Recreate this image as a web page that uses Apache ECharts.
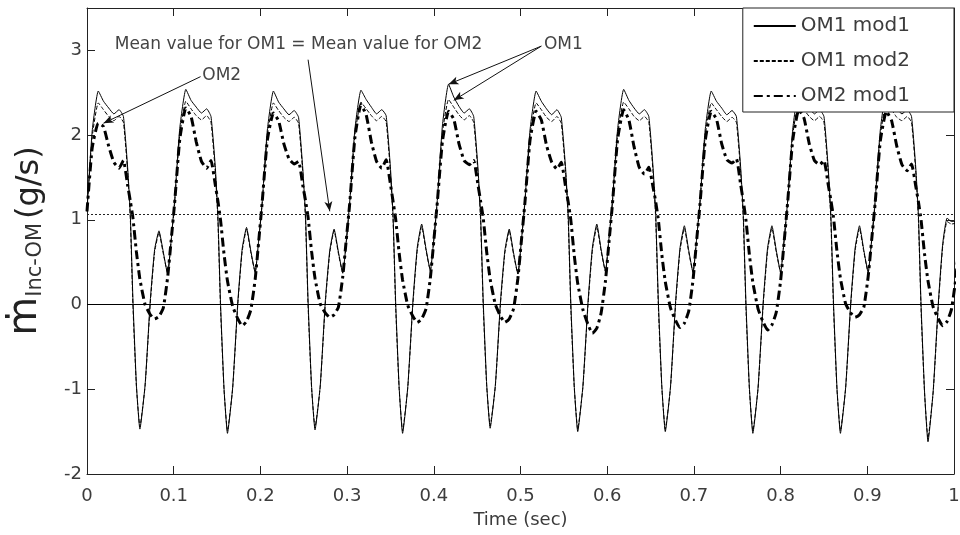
<!DOCTYPE html>
<html>
<head>
<meta charset="utf-8">
<script src="https://cdn.jsdelivr.net/npm/echarts@6/dist/echarts.min.js"></script>
<style>
  html, body { margin: 0; background: #fff; }
  #chart { width: 960px; height: 535px; }
</style>
</head>
<body>
<div id="chart"></div>
<script>
// time samples (sec), one row per engine cycle
const time = [
  0.000, 0.006, 0.013, 0.019, 0.025, 0.031, 0.037, 0.042, 0.047, 0.050, 0.053, 0.057, 0.061, 0.067, 0.073, 0.078, 0.083, 0.088, 0.093, 0.097,
  0.101, 0.107, 0.114, 0.120, 0.126, 0.132, 0.138, 0.143, 0.148, 0.151, 0.154, 0.158, 0.162, 0.168, 0.174, 0.179, 0.184, 0.189, 0.194, 0.198,
  0.202, 0.208, 0.215, 0.221, 0.227, 0.233, 0.239, 0.244, 0.249, 0.252, 0.255, 0.259, 0.263, 0.269, 0.275, 0.280, 0.285, 0.290, 0.295, 0.299,
  0.303, 0.309, 0.316, 0.322, 0.328, 0.334, 0.340, 0.345, 0.350, 0.353, 0.356, 0.360, 0.364, 0.370, 0.376, 0.381, 0.386, 0.391, 0.396, 0.400,
  0.404, 0.410, 0.417, 0.423, 0.429, 0.435, 0.441, 0.446, 0.451, 0.454, 0.457, 0.461, 0.465, 0.471, 0.477, 0.482, 0.487, 0.492, 0.497, 0.501,
  0.505, 0.511, 0.518, 0.524, 0.530, 0.536, 0.542, 0.547, 0.552, 0.555, 0.558, 0.562, 0.566, 0.572, 0.578, 0.583, 0.588, 0.593, 0.598, 0.602,
  0.606, 0.612, 0.619, 0.625, 0.631, 0.637, 0.643, 0.648, 0.653, 0.656, 0.659, 0.663, 0.667, 0.673, 0.679, 0.684, 0.689, 0.694, 0.699, 0.703,
  0.707, 0.713, 0.720, 0.726, 0.732, 0.738, 0.744, 0.749, 0.754, 0.757, 0.760, 0.764, 0.768, 0.774, 0.780, 0.785, 0.790, 0.795, 0.800, 0.804,
  0.808, 0.814, 0.821, 0.827, 0.833, 0.839, 0.845, 0.850, 0.855, 0.858, 0.861, 0.865, 0.869, 0.875, 0.881, 0.886, 0.891, 0.896, 0.901, 0.905,
  0.909, 0.915, 0.922, 0.928, 0.934, 0.940, 0.946, 0.951, 0.956, 0.959, 0.962, 0.966, 0.970, 0.976, 0.982, 0.987, 0.992, 0.997, 1.002, 1.006
];

const om1Mod1 = [
  1.10, 2.05, 2.52, 2.40, 2.32, 2.25, 2.30, 2.22, 1.60, 1.05, 0.05, -0.95, -1.47, -0.95, 0.05, 0.65, 0.87, 0.62, 0.36, 0.75,
  1.22, 2.08, 2.54, 2.41, 2.33, 2.26, 2.31, 2.22, 1.62, 1.04, 0.02, -0.98, -1.52, -0.98, 0.04, 0.66, 0.91, 0.63, 0.38, 0.76,
  1.20, 2.06, 2.52, 2.39, 2.31, 2.24, 2.29, 2.21, 1.59, 1.06, 0.04, -0.96, -1.48, -0.96, 0.06, 0.64, 0.89, 0.62, 0.37, 0.74,
  1.21, 2.07, 2.53, 2.42, 2.33, 2.25, 2.30, 2.23, 1.61, 1.05, 0.03, -0.97, -1.52, -0.97, 0.05, 0.68, 0.95, 0.66, 0.40, 0.77,
  1.23, 2.12, 2.60, 2.45, 2.34, 2.26, 2.31, 2.22, 1.60, 1.04, 0.04, -0.94, -1.46, -0.95, 0.05, 0.64, 0.89, 0.61, 0.36, 0.75,
  1.21, 2.06, 2.52, 2.40, 2.31, 2.24, 2.30, 2.21, 1.61, 1.06, 0.03, -0.96, -1.50, -0.96, 0.05, 0.68, 0.95, 0.65, 0.39, 0.78,
  1.22, 2.07, 2.54, 2.41, 2.32, 2.25, 2.30, 2.22, 1.60, 1.05, 0.04, -0.96, -1.50, -0.97, 0.05, 0.67, 0.93, 0.64, 0.38, 0.76,
  1.22, 2.06, 2.52, 2.40, 2.32, 2.24, 2.29, 2.22, 1.61, 1.05, 0.03, -0.98, -1.52, -0.98, 0.04, 0.67, 0.93, 0.64, 0.38, 0.76,
  1.21, 2.07, 2.53, 2.40, 2.32, 2.25, 2.30, 2.22, 1.60, 1.04, 0.03, -0.98, -1.52, -0.98, 0.04, 0.67, 0.93, 0.64, 0.38, 0.76,
  1.22, 2.06, 2.52, 2.40, 2.31, 2.25, 2.30, 2.22, 1.60, 1.04, 0.00, -1.02, -1.62, -1.02, 0.03, 0.72, 1.02, 0.98, 0.98, 1.00
];

const om1Mod2 = [
  1.10, 1.98, 2.38, 2.30, 2.22, 2.17, 2.22, 2.15, 1.55, 1.00, -0.02, -0.97, -1.44, -0.96, 0.02, 0.62, 0.85, 0.60, 0.37, 0.74,
  1.18, 2.00, 2.40, 2.31, 2.23, 2.18, 2.23, 2.15, 1.56, 0.99, -0.04, -1.00, -1.49, -0.99, 0.01, 0.63, 0.89, 0.61, 0.38, 0.75,
  1.18, 1.99, 2.38, 2.29, 2.21, 2.16, 2.21, 2.14, 1.54, 1.01, -0.02, -0.98, -1.45, -0.97, 0.03, 0.61, 0.87, 0.60, 0.37, 0.73,
  1.19, 2.00, 2.39, 2.31, 2.23, 2.17, 2.22, 2.16, 1.56, 1.00, -0.03, -0.99, -1.49, -0.98, 0.02, 0.65, 0.92, 0.64, 0.40, 0.76,
  1.20, 2.03, 2.42, 2.33, 2.24, 2.18, 2.23, 2.15, 1.55, 0.99, -0.02, -0.96, -1.43, -0.96, 0.02, 0.61, 0.87, 0.59, 0.36, 0.74,
  1.19, 1.99, 2.38, 2.30, 2.21, 2.16, 2.22, 2.14, 1.56, 1.01, -0.03, -0.98, -1.47, -0.97, 0.02, 0.65, 0.92, 0.63, 0.39, 0.77,
  1.19, 2.00, 2.39, 2.31, 2.22, 2.17, 2.22, 2.15, 1.55, 1.00, -0.02, -0.98, -1.47, -0.98, 0.02, 0.64, 0.90, 0.62, 0.38, 0.75,
  1.19, 1.99, 2.38, 2.30, 2.22, 2.16, 2.21, 2.15, 1.56, 1.00, -0.03, -1.00, -1.49, -0.99, 0.01, 0.64, 0.90, 0.62, 0.38, 0.75,
  1.18, 2.00, 2.39, 2.30, 2.22, 2.17, 2.22, 2.15, 1.55, 0.99, -0.03, -1.00, -1.49, -0.99, 0.01, 0.64, 0.90, 0.62, 0.38, 0.75,
  1.19, 1.99, 2.38, 2.30, 2.21, 2.17, 2.22, 2.15, 1.55, 0.99, -0.06, -1.04, -1.58, -1.03, 0.00, 0.69, 0.98, 0.95, 0.96, 0.98
];

const om2Mod1 = [
  1.10, 1.85, 2.14, 2.10, 1.87, 1.68, 1.61, 1.70, 1.40, 1.22, 1.02, 0.62, 0.30, 0.00, -0.12, -0.17, -0.14, -0.04, 0.32, 0.75,
  1.19, 1.95, 2.32, 2.22, 1.92, 1.69, 1.61, 1.70, 1.41, 1.22, 1.00, 0.60, 0.28, -0.02, -0.17, -0.25, -0.20, -0.06, 0.30, 0.74,
  1.20, 1.94, 2.26, 2.17, 1.90, 1.72, 1.66, 1.69, 1.40, 1.23, 1.03, 0.63, 0.31, 0.01, -0.10, -0.15, -0.12, -0.03, 0.33, 0.76,
  1.19, 1.97, 2.36, 2.24, 1.92, 1.69, 1.61, 1.71, 1.42, 1.22, 1.01, 0.61, 0.29, -0.01, -0.14, -0.21, -0.17, -0.05, 0.31, 0.75,
  1.20, 1.93, 2.28, 2.19, 1.90, 1.70, 1.65, 1.70, 1.41, 1.22, 1.02, 0.62, 0.30, 0.00, -0.14, -0.21, -0.17, -0.05, 0.31, 0.75,
  1.19, 1.94, 2.28, 2.18, 1.88, 1.68, 1.60, 1.68, 1.39, 1.21, 1.00, 0.58, 0.25, -0.06, -0.24, -0.34, -0.28, -0.10, 0.28, 0.73,
  1.18, 1.95, 2.30, 2.18, 1.86, 1.62, 1.54, 1.62, 1.38, 1.21, 1.00, 0.59, 0.27, -0.04, -0.19, -0.27, -0.22, -0.08, 0.29, 0.74,
  1.18, 1.93, 2.28, 2.19, 1.90, 1.71, 1.67, 1.72, 1.41, 1.22, 1.00, 0.59, 0.26, -0.05, -0.21, -0.30, -0.24, -0.09, 0.28, 0.73,
  1.19, 1.94, 2.30, 2.20, 1.90, 1.70, 1.65, 1.70, 1.41, 1.23, 1.03, 0.63, 0.31, 0.01, -0.10, -0.15, -0.12, -0.03, 0.33, 0.76,
  1.19, 1.93, 2.28, 2.17, 1.87, 1.65, 1.58, 1.66, 1.39, 1.21, 1.00, 0.60, 0.28, -0.03, -0.17, -0.25, -0.20, -0.06, 0.30, 0.74
];

const seriesNames = ['OM1 mod1', 'OM1 mod2', 'OM2 mod1'];
const meanValue = 1.07;

// annotation anchors in data units [time, value]
const notes = [
  { text: 'Mean value for OM1 = Mean value for OM2', at: [0.032, 3.05] },
  { text: 'OM1', at: [0.527, 3.05] },
  { text: 'OM2', at: [0.133, 2.69] }
];
const arrows = [
  [[0.255, 2.89], [0.280, 1.10]],
  [[0.524, 3.05], [0.417, 2.60]],
  [[0.524, 3.05], [0.423, 2.41]],
  [[0.131, 2.69], [0.019, 2.14]]
];

const FONT = 'DejaVu Sans';
const TXT = '#3c3c3c';
const pairs = (ys) => time.map((t, i) => [t, ys[i]]);

const chart = echarts.init(document.getElementById('chart'), null, { renderer: 'canvas' });

const axisCommon = () => ({
  axisLine: { show: true, onZero: false, lineStyle: { color: '#222', width: 1 } },
  axisTick: { show: true, inside: true, length: 8, lineStyle: { color: '#222' } },
  splitLine: { show: false }
});

chart.setOption({
  animation: false,
  grid: { left: 87, right: 6, top: 8, bottom: 61, containLabel: false, outerBoundsMode: 'none' },
  legend: {
    data: seriesNames,
    orient: 'vertical',
    right: 6,
    top: 8,
    itemWidth: 42,
    itemHeight: 14,
    itemGap: 15,
    padding: [8, 44, 6, 10],
    backgroundColor: '#fff',
    borderColor: '#222',
    borderWidth: 1,
    borderRadius: 0,
    itemStyle: { opacity: 0, borderWidth: 0 },
    textStyle: { fontFamily: FONT, fontSize: 20, color: TXT }
  },
  xAxis: [
    Object.assign(axisCommon(), {
      type: 'value', min: 0, max: 1, interval: 0.1,
      name: 'Time (sec)', nameLocation: 'middle', nameGap: 37,
      nameTextStyle: { fontFamily: FONT, fontSize: 18, color: TXT },
      axisLabel: { fontFamily: FONT, fontSize: 18, color: TXT, margin: 13 }
    }),
    Object.assign(axisCommon(), {
      type: 'value', min: 0, max: 1, interval: 0.1, position: 'top',
      axisLabel: { show: false }
    })
  ],
  yAxis: [
    Object.assign(axisCommon(), {
      type: 'value', min: -2, max: 3.5, interval: 1,
      name: '{m|ṁ}{s|Inc-OM}{u|(g/s)}', nameLocation: 'middle', nameGap: 41, nameRotate: 90,
      nameTextStyle: {
        color: '#222',
        rich: {
          m: { fontFamily: FONT, fontSize: 40, color: '#222', verticalAlign: 'bottom' },
          s: { fontFamily: FONT, fontSize: 21, color: '#333', verticalAlign: 'bottom', padding: [0, 4, 0, 0] },
          u: { fontFamily: FONT, fontSize: 32, color: '#222', verticalAlign: 'bottom' }
        }
      },
      axisLabel: {
        fontFamily: FONT, fontSize: 18, color: TXT, margin: 5,
        formatter: (v) => (Number.isInteger(v) ? String(v) : '')
      }
    }),
    Object.assign(axisCommon(), {
      type: 'value', min: -2, max: 3.5, interval: 1, position: 'right',
      axisLabel: { show: false }
    })
  ],
  series: [
    {
      name: seriesNames[0], type: 'line', data: pairs(om1Mod1),
      symbol: 'none', smooth: 0.15, z: 3,
      lineStyle: { color: '#000', width: 1, type: 'solid' },
      itemStyle: { color: '#000' },
      markLine: {
        silent: true, animation: false,
        symbol: ['none', 'none'],
        label: { show: false },
        data: [
          { yAxis: 0, lineStyle: { color: '#000', width: 1, type: 'solid' } },
          { yAxis: meanValue, lineStyle: { color: '#222', width: 1, type: [2, 2] } }
        ].concat(arrows.map(([a, b]) => [
          { coord: a, symbol: 'none', lineStyle: { color: '#111', width: 1, type: 'solid' } },
          { coord: b, symbol: 'arrow', symbolSize: [6, 10] }
        ]))
      }
    },
    {
      name: seriesNames[1], type: 'line', data: pairs(om1Mod2),
      symbol: 'none', smooth: 0.15, z: 3,
      lineStyle: { color: '#000', width: 1, type: [4, 2] },
      itemStyle: { color: '#000' }
    },
    {
      name: seriesNames[2], type: 'line', data: pairs(om2Mod1),
      symbol: 'none', smooth: 0.15, z: 2,
      lineStyle: { color: '#000', width: 3, type: [9, 4, 3, 4] },
      itemStyle: { color: '#000' }
    }
  ]
});

chart.setOption({
  graphic: notes.map((n) => {
    const p = chart.convertToPixel({ xAxisIndex: 0, yAxisIndex: 0 }, n.at);
    return {
      type: 'text', left: p[0], top: p[1] - 10, z: 10,
      style: { text: n.text, fontFamily: FONT, fontSize: 17, fill: '#444' }
    };
  })
});
</script>
</body>
</html>
